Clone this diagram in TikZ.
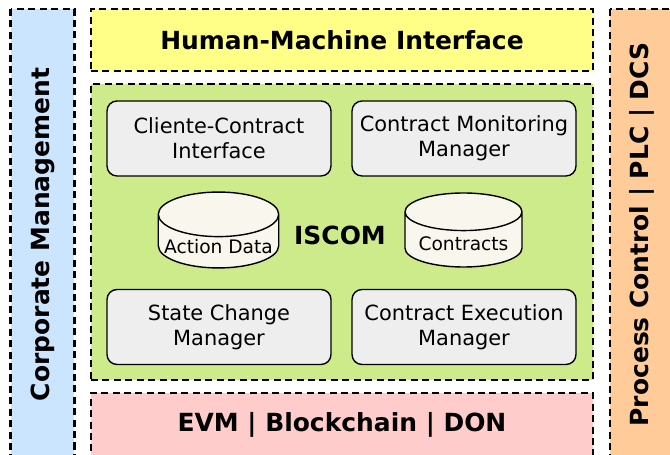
\documentclass[tikz,border=0pt]{standalone}
\usepackage{fontspec}
\setmainfont{DejaVu Sans}
\usetikzlibrary{shapes.geometric}

\definecolor{corpblue}{HTML}{CCE5FF}
\definecolor{hmiyellow}{HTML}{FFFF88}
\definecolor{iscomgreen}{HTML}{CDEB8B}
\definecolor{chainpink}{HTML}{FFCCCC}
\definecolor{procorange}{HTML}{FFCC99}
\definecolor{modgray}{HTML}{EEEEEE}
\definecolor{dbcream}{HTML}{F9F7ED}

\begin{document}
\begin{tikzpicture}[x=0.02cm, y=-0.02cm,
    layer/.style = {draw, line width=1.5pt, dash pattern=on 4pt off 2.5pt,
                    font=\fontsize{14.2}{16}\selectfont\bfseries},
    module/.style = {draw, fill=modgray, line width=0.8pt, rounded corners=0.2cm,
                     minimum width=4.48cm, minimum height=1.5cm, align=center,
                     font=\fontsize{11.9}{14.2}\selectfont},
    store/.style = {draw, fill=dbcream, line width=0.8pt, cylinder,
                    shape border rotate=90, aspect=0.37, anchor=shape center,
                    inner ysep=1pt,
                    minimum width=2.34cm, minimum height=1.48cm,
                    font=\fontsize{10.6}{12}\selectfont}]
    \useasboundingbox (0,0) rectangle (670,455);

    % side layers
    \node[layer, fill=corpblue, rotate=90, minimum width=9.02cm, minimum height=1.28cm] (corp) at (42.5,234.5) {Corporate Management};
    \node[layer, fill=procorange, rotate=90, minimum width=9.02cm, minimum height=1.28cm] (proc) at (642,234.5) {Process Control | PLC | DCS};

    % stacked layers
    \node[layer, fill=hmiyellow, minimum width=10.04cm, minimum height=1.24cm] (hmi) at (342,40) {Human-Machine Interface};
    \node[layer, fill=iscomgreen, minimum width=10.04cm, minimum height=5.92cm] (iscom) at (342,232) {};
    \node[layer, fill=chainpink, minimum width=10.04cm, minimum height=1.28cm] (evm) at (342,425) {EVM | Blockchain | DON};

    % ISCOM contents
    \node[module] (cci) at (219,138.5) {Cliente-Contract\\Interface};
    \node[module] (cmm) at (464,138.5) {Contract Monitoring\\Manager};
    \node[store] (action) at (218.5,230) {Action Data};
    \node[font=\fontsize{14.2}{16}\selectfont\bfseries] (iscomlabel) at (340,235) {ISCOM};
    \node[store] (contracts) at (463.5,230) {Contracts};
    \node[module] (scm) at (219,327) {State Change\\Manager};
    \node[module] (cem) at (464,327) {Contract Execution\\Manager};
\end{tikzpicture}
\end{document}
